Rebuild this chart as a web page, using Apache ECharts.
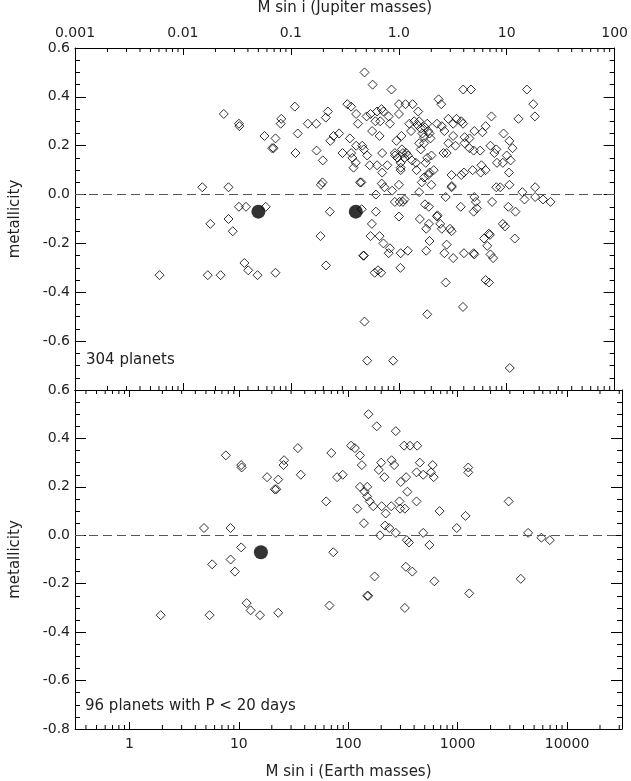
<!DOCTYPE html>
<html>
<head>
<meta charset="utf-8">
<script src="https://cdn.jsdelivr.net/npm/echarts@6/dist/echarts.min.js"></script>
<style>html,body{margin:0;padding:0;background:#fff;}#chart{width:631px;height:781px;}</style>
</head>
<body>
<div id="chart"></div>
<script>
// ---- data (M sin i in Earth masses, metallicity [Fe/H]) ----
const allPlanets = [
[1.93,-0.33],[4.8,0.03],[5.4,-0.33],[5.7,-0.12],[7.1,-0.33],[7.6,0.33],[8.4,0.03],[8.4,-0.10],[9.2,-0.15],[10.5,-0.05],
[12.2,-0.05],[10.5,0.29],[10.6,0.28],[11.8,-0.28],[12.8,-0.31],[15.6,-0.33],[18.6,-0.05],[18.1,0.24],[22.9,0.23],[21.3,0.19],
[22,0.19],[22.9,-0.32],[25.9,0.31],[25.6,0.29],[34.6,0.36],[36.8,0.25],[35.1,0.17],[45.7,0.29],[54.7,0.29],[55,0.18],
[62.8,0.14],[62.4,0.05],[60.3,0.04],[73,-0.07],[59.8,-0.17],[67.3,-0.29],[67,0.315],[70,0.34],[79,0.24],[73.7,0.22],
[89,0.25],[95.7,0.17],[106,0.37],[115,0.36],[128,0.33],[112,0.23],[128,0.20],[133,0.29],[115,0.17],[118,0.15],
[127,0.13],[121,0.11],[139,0.05],[151,-0.25],
[153,0.50],[182,0.45],[272,0.43],[1257,0.43],[1484,0.43],[4887,0.43],[5600,0.37],[5800,0.32],[4080,0.31],[2295,0.32],
[743,0.39],[786,0.37],[319,0.37],[367,0.37],[427,0.37],[481,0.34],[319,0.33],[160,0.32],[174,0.33],[200,0.34],
[220,0.35],[229,0.34],[256,0.32],[263,0.29],[214,0.30],[193,0.30],[180,0.26],[211,0.24],[146,0.20],[151,0.185],
[162,0.16],[171,0.12],[200,0.12],[223,0.17],[223,0.09],[249,0.12],[143,0.05],[221,0.045],[234,0.03],[319,0.04],
[276,0.016],[195,0.0],[292,-0.03],[324,-0.03],[347,-0.03],[359,-0.02],[144,-0.06],[195,-0.07],[179,-0.12],[174,-0.17],
[211,-0.17],[229,-0.20],[263,-0.22],[256,-0.24],[149,-0.25],[331,-0.24],[385,-0.23],[190,-0.32],[204,-0.31],[218,-0.32],
[329,-0.30],[153,-0.52],[162,-0.68],[282,-0.68],[3390,-0.71],
[319,-0.09],[498,-0.10],[556,-0.04],[604,-0.05],[491,0.01],[464,0.10],[519,0.05],[544,0.07],[595,0.08],[638,0.04],
[564,0.13],[583,0.15],[638,0.16],[670,0.10],[612,0.09],[458,0.13],[421,0.14],[385,0.16],[347,0.17],[359,0.15],
[331,0.13],[331,0.11],[331,0.10],[294,0.16],[309,0.15],[292,0.17],[302,0.22],[336,0.24],[340,0.185],[372,0.17],
[398,0.29],[413,0.26],[442,0.30],[474,0.285],[491,0.30],[508,0.27],[526,0.25],[544,0.235],[556,0.275],[583,0.29],
[595,0.26],[612,0.25],[625,0.23],[544,0.21],[491,0.21],[508,0.185],
[718,0.29],[796,0.28],[841,0.26],[915,0.31],[1014,0.29],[1087,0.31],[1205,0.30],[1250,0.29],
[1014,0.24],[915,0.21],[1065,0.20],[883,0.17],[824,0.17],
[1294,0.235],[1436,0.23],[1294,0.21],[1436,0.19],[1570,0.18],[1803,0.18],[2027,0.28],[1892,0.255],[1592,0.26],
[2248,0.20],[2547,0.185],[2443,0.17],[2971,0.25],[3365,0.22],[3600,0.19],[3178,0.16],[3454,0.14],[2925,0.13],[2582,0.13],
[3334,0.09],[3365,0.04],[2547,0.03],[2767,0.03],
[4436,0.01],[4645,-0.02],[5834,0.03],[5834,-0.01],[6897,-0.02],[8090,-0.03],
[3292,-0.05],[3829,-0.07],[3776,-0.18],[2925,-0.12],[3069,-0.13],[2328,-0.03],
[1827,0.09],[2027,0.10],[1537,0.10],[1853,0.12],[980,0.08],[1205,0.08],[1276,0.09],[980,0.03],[985,0.035],
[865,-0.01],[1191,-0.05],[1592,-0.01],[1648,-0.03],[1680,-0.056],[1570,-0.07],[718,-0.09],[725,-0.085],
[769,-0.12],[796,-0.14],[948,-0.14],[980,-0.15],[604,-0.12],[571,-0.14],[612,-0.19],[571,-0.23],[883,-0.205],[841,-0.24],
[1014,-0.26],[1276,-0.24],[1570,-0.24],[1590,-0.245],[1960,-0.18],[2173,-0.16],[2218,-0.165],[2099,-0.21],[2248,-0.245],[2377,-0.26],
[2027,-0.35],[2173,-0.36],[865,-0.36],[1250,-0.46],[583,-0.49]
];
const allHighlighted = [[15.9,-0.07],[127,-0.07]];

const shortPeriodPlanets = [
[1.93,-0.33],[4.8,0.03],[5.4,-0.33],[5.7,-0.12],[7.6,0.33],[8.4,0.03],[8.4,-0.10],[9.2,-0.15],[10.5,-0.05],[10.5,0.29],
[10.6,0.28],[11.8,-0.28],[12.8,-0.31],[15.6,-0.33],[18.1,0.24],[22.9,0.23],[21.3,0.19],[22,0.19],[22.9,-0.32],[25.9,0.31],
[25.6,0.29],[34.6,0.36],[36.8,0.25],[70,0.34],[62.8,0.14],[73,-0.07],[67.3,-0.29],[79,0.24],[89,0.25],[106,0.37],
[115,0.36],[128,0.33],[133,0.29],[128,0.20],[121,0.11],[139,0.05],
[153,0.50],[182,0.45],[272,0.43],[324,0.37],[367,0.37],[427,0.37],[200,0.30],[249,0.31],[263,0.29],[190,0.27],
[214,0.24],[451,0.30],[421,0.26],[484,0.25],[591,0.29],[571,0.26],[604,0.24],[338,0.24],[302,0.22],[347,0.18],
[421,0.14],[294,0.14],[298,0.11],[329,0.11],[247,0.12],[202,0.12],[220,0.09],[169,0.12],[157,0.14],[149,0.16],
[141,0.18],[149,0.20],[217,0.04],[237,0.03],[272,0.01],[195,0.0],[484,0.01],[980,0.03],[1180,0.08],[684,0.10],
[1250,0.28],[1250,0.26],[2925,0.14],[4405,0.01],[5834,-0.01],[6955,-0.02],[343,-0.02],[359,-0.03],[552,-0.04],[336,-0.13],
[385,-0.15],[174,-0.17],[612,-0.19],[3776,-0.18],[149,-0.25],[152,-0.25],[1276,-0.24],[329,-0.30]
];
const shortHighlighted = [[15.9,-0.07]];

const jupiterTickLabels = ['0.001','0.01','0.1','1.0','10','100'];
const earthTickLabels = ['1','10','100','1000','10000'];

const EARTH_PER_JUPITER = 317.8;
const jupMin = 0.001, jupMax = 100;
const earthMin = jupMin*EARTH_PER_JUPITER, earthMax = jupMax*EARTH_PER_JUPITER;

function minorValues(lo, hi){
  const out = [];
  for (let e = Math.floor(Math.log10(lo)); e <= Math.ceil(Math.log10(hi)); e++){
    for (let k = 2; k <= 9; k++){ const v = k*Math.pow(10,e); if (v > lo*1.0001 && v < hi*0.9999) out.push([v,0]); }
  }
  return out;
}

const FONT = 'DejaVu Sans';
const TXT = '#222';
const labelStyle = {fontFamily: FONT, fontSize: 14, color: TXT};

function decadeLabel(labels, firstExp){
  return function(v){
    const e = Math.log10(v); const r = Math.round(e);
    if (Math.abs(e - r) > 1e-6) return '';
    const i = r - firstExp;
    return (i >= 0 && i < labels.length) ? labels[i] : '';
  };
}

function xAxisBase(grid, pos, isJup, showLabel, name){
  const a = {
    type: 'log', logBase: 10, gridIndex: grid, position: pos,
    min: isJup ? jupMin : earthMin, max: isJup ? jupMax : earthMax,
    axisLine: {show: true, onZero: false, lineStyle: {color: '#000', width: 1}},
    axisTick: {show: true, inside: true, length: 7, lineStyle: {color: '#000'}},
    splitLine: {show: false},
    axisLabel: {show: showLabel, margin: 8, showMinLabel: isJup, showMaxLabel: isJup,
      formatter: isJup ? decadeLabel(jupiterTickLabels, -3) : decadeLabel(earthTickLabels, 0), ...labelStyle}
  };
  if (name){ a.name = name; a.nameLocation = 'middle'; a.nameGap = pos === 'top' ? 32 : 36;
    a.nameTextStyle = {fontFamily: FONT, fontSize: 15, color: TXT}; }
  return a;
}
function yAxisBase(grid, pos, showLabel, hideMin){
  return {
    type: 'value', gridIndex: grid, position: pos, min: -0.8, max: 0.6, interval: 0.2,
    axisLine: {show: true, onZero: false, lineStyle: {color: '#000', width: 1}},
    axisTick: {show: true, inside: true, length: 11, lineStyle: {color: '#000'}},
    minorTick: {show: true, splitNumber: 4, length: 5, lineStyle: {color: '#000'}},
    splitLine: {show: false}, minorSplitLine: {show: false},
    name: pos === 'left' ? 'metallicity' : '', nameLocation: 'middle', nameGap: 52, nameRotate: 90,
    nameTextStyle: {fontFamily: FONT, fontSize: 15, color: TXT},
    axisLabel: {show: showLabel, margin: 5, showMinLabel: !hideMin, formatter: v => v.toFixed(1), ...labelStyle}
  };
}

function minorTickRender(len){
  return function(params, api){
    const cs = params.coordSys;
    const x = api.coord([api.value(0), 0])[0];
    return {type: 'group', children: [
      {type: 'line', shape: {x1: x, y1: cs.y, x2: x, y2: cs.y + len}, style: {stroke: '#000', lineWidth: 1}},
      {type: 'line', shape: {x1: x, y1: cs.y + cs.height, x2: x, y2: cs.y + cs.height - len}, style: {stroke: '#000', lineWidth: 1}}
    ]};
  };
}

const diamondStyle = {color: 'rgba(0,0,0,0)', borderColor: '#000', borderWidth: 1};
const zeroLine = {silent: true, symbol: 'none', label: {show: false},
  lineStyle: {type: [9, 5], color: '#555', width: 1}, data: [{yAxis: 0}]};

const chart = echarts.init(document.getElementById('chart'), null, {renderer: 'canvas'});
chart.setOption({
  animation: false,
  backgroundColor: '#fff',
  grid: [
    {left: 66, top: 45, width: 556, height: 345, containLabel: false},
    {left: 66, top: 390, width: 556, height: 344, containLabel: false}
  ],
  xAxis: [
    xAxisBase(0, 'top', true, true, 'M sin i (Jupiter masses)'),
    xAxisBase(0, 'bottom', true, false),
    xAxisBase(1, 'top', false, false),
    xAxisBase(1, 'bottom', false, true, 'M sin i (Earth masses)'),
    Object.assign(xAxisBase(0, 'bottom', false, false), {show: false})
  ],
  yAxis: [
    yAxisBase(0, 'left', true, true),
    yAxisBase(0, 'right', false, true),
    yAxisBase(1, 'left', true, false),
    yAxisBase(1, 'right', false, false)
  ],
  graphic: [
    {type: 'text', left: 86, top: 353, style: {text: '304 planets', fontFamily: FONT, fontSize: 15, fill: TXT}},
    {type: 'text', left: 85, top: 699, style: {text: '96 planets with P < 20 days', fontFamily: FONT, fontSize: 15, fill: TXT}}
  ],
  series: [
    {type: 'scatter', xAxisIndex: 4, yAxisIndex: 0, data: allPlanets, symbol: 'diamond', symbolSize: 9,
      itemStyle: diamondStyle, markLine: zeroLine, z: 3},
    {type: 'scatter', xAxisIndex: 4, yAxisIndex: 0, data: allHighlighted, symbol: 'circle', symbolSize: 14,
      itemStyle: {color: '#000'}, z: 4},
    {type: 'scatter', xAxisIndex: 3, yAxisIndex: 2, data: shortPeriodPlanets, symbol: 'diamond', symbolSize: 9,
      itemStyle: diamondStyle, markLine: zeroLine, z: 3},
    {type: 'scatter', xAxisIndex: 3, yAxisIndex: 2, data: shortHighlighted, symbol: 'circle', symbolSize: 14,
      itemStyle: {color: '#000'}, z: 4},
    {type: 'custom', xAxisIndex: 0, yAxisIndex: 0, data: minorValues(jupMin, jupMax), renderItem: minorTickRender(4),
      silent: true, clip: false, z: 5},
    {type: 'custom', xAxisIndex: 3, yAxisIndex: 2, data: minorValues(earthMin, earthMax), renderItem: minorTickRender(4),
      silent: true, clip: false, z: 5}
  ]
});
</script>
</body>
</html>
